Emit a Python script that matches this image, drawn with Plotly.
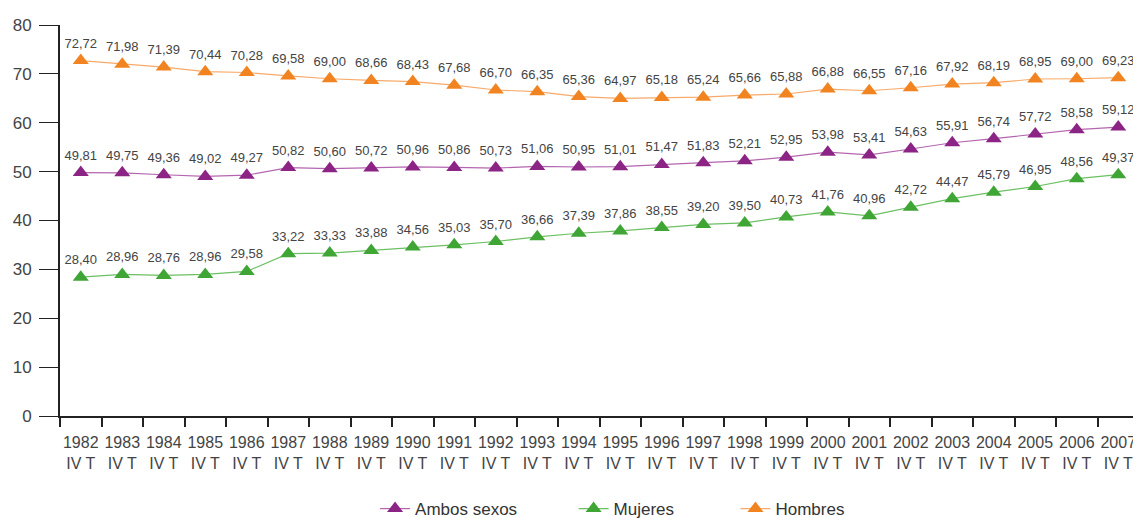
import plotly.graph_objects as go

years = [str(y) for y in range(1982, 2008)]
tick_labels = [f"{y}<br>IV T" for y in years]

ambos = [49.81, 49.75, 49.36, 49.02, 49.27, 50.82, 50.60, 50.72, 50.96, 50.86, 50.73, 51.06, 50.95,
         51.01, 51.47, 51.83, 52.21, 52.95, 53.98, 53.41, 54.63, 55.91, 56.74, 57.72, 58.58, 59.12]
mujeres = [28.40, 28.96, 28.76, 28.96, 29.58, 33.22, 33.33, 33.88, 34.56, 35.03, 35.70, 36.66, 37.39,
           37.86, 38.55, 39.20, 39.50, 40.73, 41.76, 40.96, 42.72, 44.47, 45.79, 46.95, 48.56, 49.37]
hombres = [72.72, 71.98, 71.39, 70.44, 70.28, 69.58, 69.00, 68.66, 68.43, 67.68, 66.70, 66.35, 65.36,
           64.97, 65.18, 65.24, 65.66, 65.88, 66.88, 66.55, 67.16, 67.92, 68.19, 68.95, 69.00, 69.23]

series = [
    ("Ambos sexos", ambos, "#8C2486", "#B565B0", "legend", 0.292),
    ("Mujeres", mujeres, "#3FA535", "#6CC063", "legend2", 0.476),
    ("Hombres", hombres, "#F18421", "#F7AA6A", "legend3", 0.626),
]

def fmt(v):
    return f"{v:.2f}".replace(".", ",")

fig = go.Figure()
legend_layout = {}
for name, vals, mcol, lcol, leg, lx in series:
    fig.add_trace(go.Scatter(
        x=tick_labels, y=vals, name=name, mode="lines+markers+text",
        line=dict(color=lcol, width=1.2),
        marker=dict(symbol="triangle-up", size=14, color=mcol),
        text=[fmt(v) for v in vals], textposition="top center",
        textfont=dict(size=13, color="#444444", family="Liberation Sans"),
        cliponaxis=False, legend=leg,
    ))
    legend_layout[leg] = dict(orientation="h", x=lx, xanchor="left", y=-0.192, yanchor="top",
                              font=dict(size=17, color="#333333"), itemwidth=30,
                              bgcolor="rgba(0,0,0,0)")

fig.update_layout(
    width=1133, height=510,
    margin=dict(l=52, r=2, t=17, b=102, autoexpand=False),
    paper_bgcolor="white", plot_bgcolor="white",
    font=dict(family="Liberation Sans", color="#444444"),
    showlegend=True,
    **legend_layout,
)
fig.update_xaxes(
    type="category", tickson="boundaries", ticks="outside", ticklen=9, tickwidth=1.5,
    tickcolor="#222222", showline=True, linecolor="#222222", linewidth=1.5,
    showgrid=False, tickfont=dict(size=16, color="#444444"), range=[-0.5, 25.5],
    automargin=False, ticklabelstandoff=11, tickangle=0,
)
fig.update_yaxes(
    range=[0, 80], dtick=10, ticks="outside", ticklen=19, tickwidth=1.2, tickcolor="#222222",
    showline=True, linecolor="#222222", linewidth=2, showgrid=False, zeroline=False,
    tickfont=dict(size=17, color="#444444"), automargin=False, ticklabelstandoff=4,
)
fig.write_html("out.html")
